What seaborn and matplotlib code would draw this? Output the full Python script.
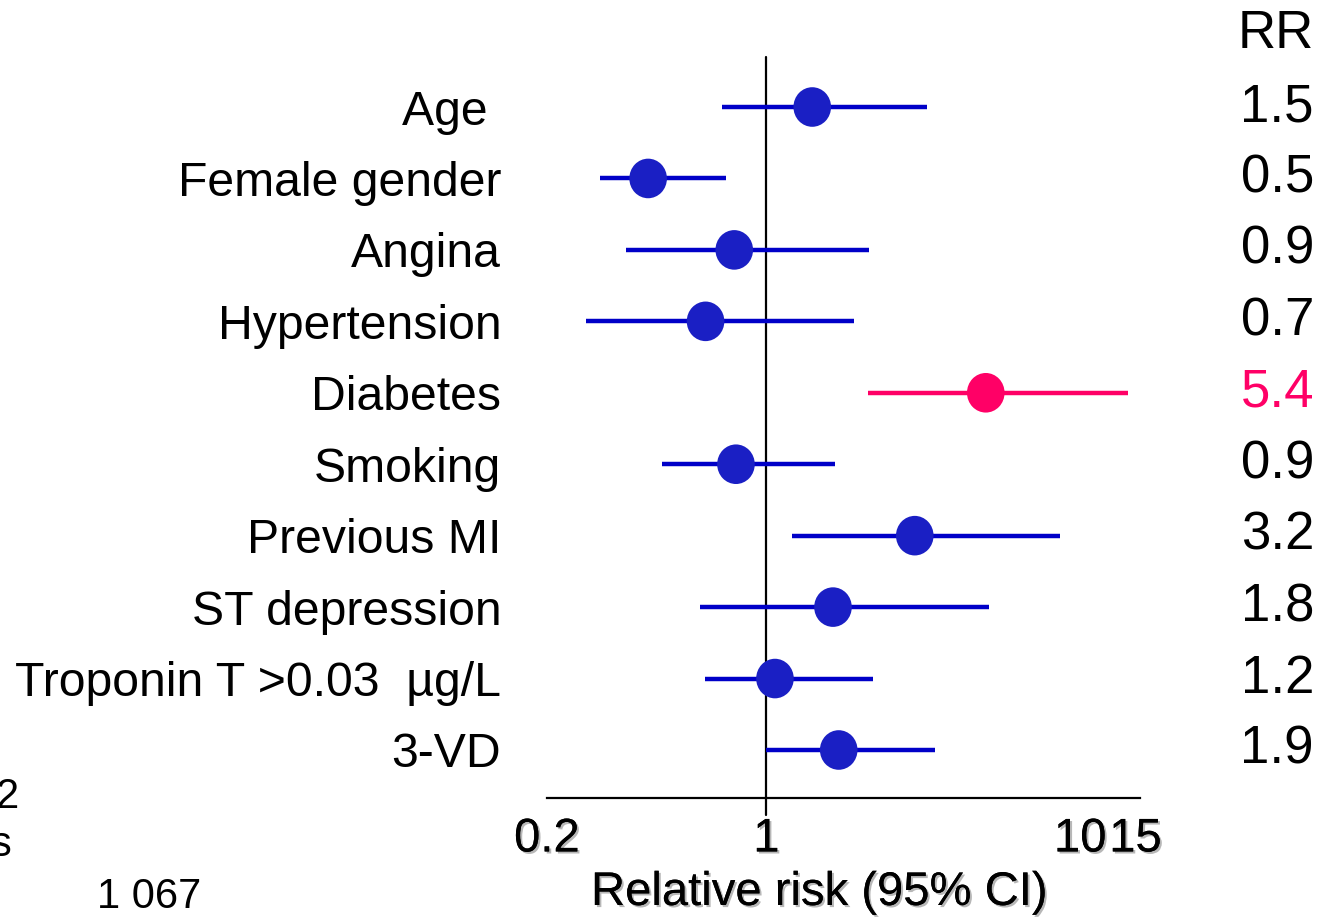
import numpy as np
import pandas as pd
import matplotlib
matplotlib.use("Agg")
import matplotlib.pyplot as plt
import matplotlib.patheffects as pe
from matplotlib.path import Path
from matplotlib.transforms import blended_transform_factory
import seaborn as sns

# ---------------- data ----------------
factors = ["Age ", "Female gender", "Angina", "Hypertension", "Diabetes",
           "Smoking", "Previous MI", "ST depression",
           "Troponin T >0.03  \u00b5g/L", "3-VD"]
rr_point = [1.40, 0.42, 0.79, 0.64, 5.0, 0.80, 2.97, 1.63, 1.065, 1.70]
ci_low = [0.72, 0.295, 0.358, 0.267, 2.10, 0.465, 1.205, 0.614, 0.637, 1.0]
ci_high = [3.24, 0.746, 2.13, 1.90, 14.2, 1.66, 8.60, 5.13, 2.18, 3.44]
rr_text = ["1.5", "0.5", "0.9", "0.7", "5.4", "0.9", "3.2", "1.8", "1.2", "1.9"]
highlight = [False, False, False, False, True, False, False, False, False, False]
xtick_vals = [0.2, 1, 10, 15]
xtick_labels = ["0.2", "1", "10", "15"]

# ---------------- style ----------------
sns.set_theme(style="white")
plt.rcParams["font.family"] = ["Liberation Sans", "DejaVu Sans"]
plt.rcParams["text.color"] = "black"

BLUE_LINE = "#0000C8"
BLUE_DOT = "#1A1FC4"
PINK = "#FF0066"

df = pd.DataFrame({
    "factor": factors,
    "row": np.arange(len(factors)),
    "rr": rr_point,
    "lo": ci_low,
    "hi": ci_high,
    "hl": highlight,
})
line_colors = [PINK if h else BLUE_LINE for h in highlight]
dot_palette = {f: (PINK if h else BLUE_DOT) for f, h in zip(factors, highlight)}

W, H = 1320, 917
fig = plt.figure(figsize=(W / 100, H / 100), dpi=100)
ax_left, ax_right, ax_top, ax_bottom = 547, 1140, 57, 798
ax = fig.add_axes([ax_left / W, 1 - ax_bottom / H,
                   (ax_right - ax_left) / W, (ax_bottom - ax_top) / H])

# CI lines
ax.hlines(df["row"], df["lo"], df["hi"], colors=line_colors, lw=3.2, zorder=2)

# nearly circular marker
uc = Path.unit_circle()
ell = Path(uc.vertices * np.array([0.95, 1.0]), uc.codes)

sns.scatterplot(data=df, x="rr", y="row", hue="factor", palette=dot_palette,
                marker=ell, s=28.5 ** 2, linewidth=0, legend=False, ax=ax,
                zorder=3)

ax.set_xscale("log")
ax.set_xlim(0.2, 15.5)
ax.set_ylim(9.672, -0.70)

# reference line at 1, extending slightly below the axis
ax.axvline(1, ymin=-0.023, ymax=1, color="black", lw=1.6, clip_on=False,
           zorder=1)

for s in ["top", "right", "left"]:
    ax.spines[s].set_visible(False)
ax.spines["bottom"].set_color("black")
ax.spines["bottom"].set_linewidth(1.6)

shadow = [pe.withSimplePatchShadow(offset=(1.5, -1.5),
                                   shadow_rgbFace="#888888", alpha=0.6),
          pe.Normal()]

ax.set_xticks(xtick_vals)
ax.set_xticklabels(xtick_labels)
ax.xaxis.set_minor_locator(matplotlib.ticker.NullLocator())
ax.tick_params(axis="x", length=0, pad=14, labelsize=34, colors="black")
for t in ax.get_xticklabels():
    t.set_path_effects(shadow)

ax.set_yticks(df["row"])
ax.set_yticklabels(factors)
ax.tick_params(axis="y", length=0, pad=33, labelsize=34.7, colors="black")

ax.set_xlabel("Relative risk (95% CI)", fontsize=34, color="black",
              path_effects=shadow)
ax.xaxis.set_label_coords((819 - ax_left) / (ax_right - ax_left),
                          -(893 - ax_bottom) / (ax_bottom - ax_top))
ax.xaxis.label.set_va("center")
ax.set_ylabel("")
ax.grid(False)

# RR column
trans = blended_transform_factory(fig.transFigure, ax.transData)
for r, txt, h in zip(df["row"], rr_text, highlight):
    ax.text(1314 / W, r, txt, transform=trans, ha="right", va="center",
            fontsize=38, color=PINK if h else "black", clip_on=False)
fig.text(1314 / W, 1 - 34 / H, "RR", ha="right", va="center", fontsize=38,
         color="black")

# clipped text fragments at the bottom left (as in the reference)
fig.text(19 / W, 1 - 797 / H, "2", ha="right", va="center", fontsize=30,
         color="black")
fig.text(-9 / W, 1 - 845 / H, "s", ha="left", va="center", fontsize=30,
         color="black")
fig.text(97 / W, 1 - 897 / H, "1 067", ha="left", va="center", fontsize=30,
         color="black")

fig.savefig("out.png", dpi=100)
